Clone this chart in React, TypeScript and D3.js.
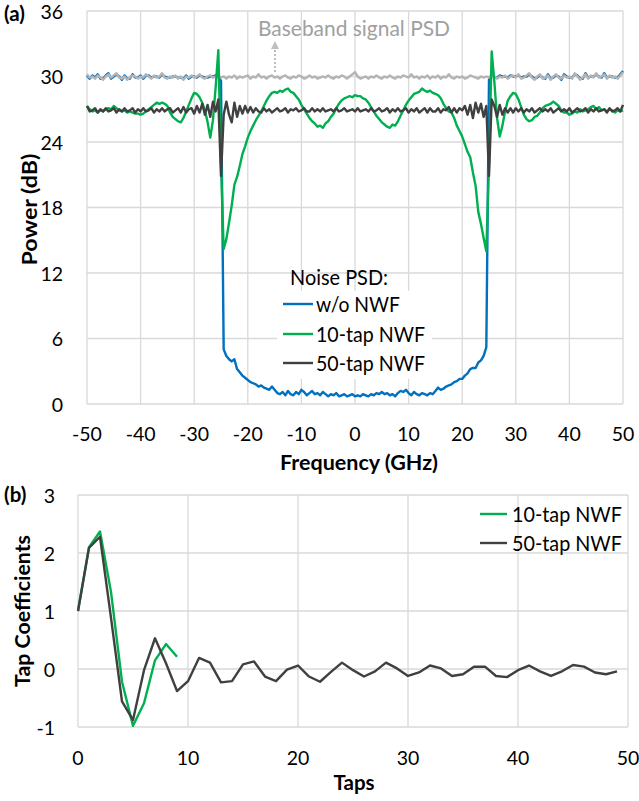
import React from 'react';
import * as d3 from 'd3';

const FONT = 'Lato, "Open Sans", sans-serif';

// Panel (a): PSD values sampled every 0.5 GHz from -50 to 50 GHz (201 points)
const freqTicks = [-50, -40, -30, -20, -10, 0, 10, 20, 30, 40, 50];
const powerTicks = [0, 6, 12, 18, 24, 30, 36];

const basebandPSD = [
  30.2, 29.9, 30.0, 29.8, 30.1, 29.9, 29.7, 30.0, 30.2, 29.9,
  30.1, 30.3, 29.9, 29.8, 30.0, 29.7, 29.9, 30.1, 30.0, 29.8,
  30.0, 29.9, 30.2, 30.0, 29.8, 30.1, 29.9, 30.0, 30.3, 29.9,
  29.8, 30.0, 29.9, 30.1, 29.8, 30.0, 29.7, 30.0, 29.9, 30.1,
  29.9, 30.0, 30.2, 29.9, 29.8, 30.0, 30.1, 29.9, 30.0, 30.1,
  29.9, 30.0, 29.8, 30.0, 29.9, 30.1, 29.8, 30.0, 29.9, 30.0,
  30.1, 29.8, 30.0, 29.9, 30.2, 29.9, 30.0, 29.8, 30.0, 30.1,
  29.9, 30.0, 29.8, 30.0, 30.1, 29.9, 29.8, 30.0, 29.9, 30.1,
  30.0, 29.8, 29.9, 30.1, 29.9, 30.0, 29.8, 29.9, 30.0, 29.9,
  30.1, 29.9, 29.8, 30.0, 29.9, 30.1, 30.0, 29.8, 30.0, 30.2,
  30.4, 30.0, 29.8, 29.9, 30.0, 29.8, 30.0, 29.9, 30.1, 29.9,
  29.8, 30.0, 29.9, 30.1, 29.9, 29.8, 30.0, 29.9, 30.1, 30.0,
  29.9, 30.2, 29.9, 30.0, 29.8, 30.0, 29.9, 30.1, 29.8, 30.0,
  29.9, 30.1, 29.8, 30.0, 29.9, 30.2, 29.9, 29.8, 30.0, 29.9,
  30.0, 29.8, 29.9, 30.1, 30.0, 29.9, 29.8, 30.0, 29.9, 30.0,
  29.9, 30.1, 30.0, 29.8, 30.0, 29.9, 30.1, 29.8, 30.0, 30.1,
  29.9, 30.2, 29.8, 29.9, 30.1, 30.3, 29.9, 29.7, 30.0, 30.2,
  29.8, 29.9, 30.1, 29.7, 30.0, 30.2, 29.9, 29.8, 30.1, 29.9,
  30.0, 29.8, 30.3, 30.0, 29.7, 29.9, 30.2, 29.8, 30.1, 29.9,
  30.3, 29.9, 30.0, 30.2, 29.8, 30.1, 29.9, 30.0, 29.8, 30.1,
  30.4,
];

const noiseNoNWF = [
  30.1, 29.8, 30.1, 29.9, 30.2, 29.8, 29.8, 30.1, 30.3, 29.8,
  30.0, 30.2, 30.0, 29.7, 30.1, 29.8, 29.8, 30.2, 29.9, 29.9,
  30.1, 29.8, 30.1, 30.1, 29.9, 30.0, 30.0, 29.9, 30.2, 30.0,
  29.9, 29.9, 30.0, 30.0, 29.9, 29.9, 29.8, 30.1, 29.8, 30.0,
  30.0, 29.9, 30.1, 30.0, 29.9, 29.9, 30.0, 30.0, 30.1, 30.0,
  29.6, 5.0, 4.4, 4.1, 3.9, 4.1, 3.2, 2.9, 2.6, 2.4,
  2.2, 2.0, 1.9, 1.8, 1.6, 1.7, 1.5, 1.4, 1.3, 1.6,
  1.3, 1.0, 0.9, 1.1, 0.8, 1.2, 0.9, 0.8, 1.1, 0.9,
  1.3, 1.1, 0.8, 1.0, 1.2, 0.9, 1.0, 0.8, 1.1, 0.9,
  0.7, 0.9, 0.8, 1.0, 0.7, 0.8, 0.9, 0.7, 0.8, 0.9,
  0.7, 0.8, 0.7, 0.9, 0.8, 0.7, 0.9, 0.8, 1.0, 0.9,
  1.1, 0.9, 1.0, 0.8, 0.9, 0.7, 1.0, 1.2, 1.1, 1.3,
  1.0, 0.8, 1.1, 0.9, 0.8, 1.0, 0.9, 0.8, 1.0, 0.9,
  1.2, 1.5, 1.3, 1.4, 1.6, 1.7, 1.8, 2.0, 2.1, 2.3,
  2.3, 2.6, 2.8, 3.2, 3.3, 3.3, 3.8, 4.0, 4.4, 5.2,
  29.7, 30.2, 29.9, 29.9, 30.1, 30.0, 30.0, 29.9, 30.1, 30.0,
  30.0, 30.1, 29.9, 30.0, 30.0, 30.2, 30.0, 29.8, 29.9, 30.1,
  29.9, 29.8, 30.2, 29.8, 29.9, 30.1, 30.0, 29.7, 30.2, 30.0,
  29.9, 29.9, 30.2, 30.1, 29.8, 29.8, 30.3, 29.9, 30.0, 30.0,
  30.2, 30.0, 29.9, 30.3, 29.9, 30.0, 30.0, 29.9, 29.9, 30.2,
  30.5,
];

const noise10Tap = [
  27.3, 27.0, 26.8, 26.9, 26.7, 26.9, 26.8, 27.0, 27.1, 27.0,
  27.3, 27.1, 26.9, 26.8, 26.9, 26.7, 26.8, 26.7, 26.6, 26.6,
  26.5, 26.6, 26.8, 27.0, 27.2, 27.4, 27.6, 27.5, 27.6, 27.5,
  27.3, 26.7, 26.3, 26.1, 25.9, 25.8, 26.2, 26.8, 27.4, 28.0,
  28.5, 28.4, 28.1, 27.6, 26.9, 25.8, 24.4, 26.0, 29.0, 32.4,
  22.0, 14.2, 15.1, 16.6, 18.2, 20.1, 20.8, 21.8, 22.9, 23.6,
  24.4, 25.0, 25.5, 26.0, 26.4, 26.8, 27.3, 27.8, 28.2, 28.5,
  28.6, 28.5, 28.7, 28.6, 28.8, 28.9, 28.6, 28.5, 28.2, 27.9,
  27.4, 27.0, 26.6, 26.2, 25.9, 25.7, 25.4, 25.5, 25.3, 25.7,
  25.9, 26.3, 26.6, 27.1, 27.5, 27.8, 28.0, 28.1, 28.2, 28.1,
  28.3, 28.2, 28.2, 28.0, 27.9, 27.6, 27.2, 26.8, 26.4, 26.1,
  25.8, 25.6, 25.4, 25.3, 25.6, 25.5, 25.9, 26.4, 26.9, 27.4,
  27.8, 28.1, 28.4, 28.5, 28.6, 28.9, 28.7, 28.6, 28.7, 28.5,
  28.4, 28.3, 28.0, 27.5, 27.1, 26.8, 26.7, 26.2, 25.5, 25.0,
  24.5, 23.8, 23.1, 22.6, 21.2, 20.0, 17.6, 16.5, 15.2, 14.0,
  22.0, 32.3, 29.5, 26.2, 24.5, 25.5, 26.8, 27.8, 28.2, 28.5,
  28.4, 27.9, 27.2, 26.5, 26.1, 25.9, 26.0, 26.3, 26.4, 26.7,
  27.1, 27.3, 27.4, 27.5, 27.7, 27.5, 27.3, 26.9, 26.7, 26.7,
  26.5, 26.6, 26.8, 26.7, 27.0, 26.8, 26.9, 27.0, 27.2, 27.3,
  27.0, 27.2, 26.9, 27.0, 26.8, 27.0, 26.9, 26.7, 26.9, 26.8,
  26.9,
];

const noise50Tap = [
  27.3, 26.8, 26.9, 27.1, 26.7, 27.0, 26.8, 27.1, 26.8, 26.9,
  27.1, 26.7, 27.0, 26.8, 27.1, 26.8, 26.9, 27.1, 26.7, 27.0,
  26.8, 27.1, 26.8, 26.9, 27.1, 26.7, 27.0, 26.8, 27.1, 26.8,
  27.0, 27.1, 26.7, 26.9, 27.1, 26.7, 27.2, 26.7, 27.0, 27.1,
  26.6, 27.3, 26.7, 27.5, 26.5, 27.4, 26.3, 27.7, 26.8, 27.9,
  20.9, 26.5, 27.7, 26.5, 25.8, 27.6, 26.3, 27.3, 26.6, 27.3,
  26.7, 27.2, 26.7, 27.1, 26.8, 26.7, 27.1, 26.8, 27.0, 26.7,
  26.9, 27.1, 26.8, 26.9, 27.1, 26.7, 27.0, 26.9, 27.1, 26.8,
  26.9, 27.1, 26.8, 26.8, 27.1, 26.8, 27.0, 26.8, 27.1, 26.8,
  26.9, 27.0, 26.8, 27.1, 26.8, 26.9, 27.1, 26.8, 26.9, 27.0,
  26.8, 27.1, 26.8, 26.9, 27.0, 26.8, 27.1, 26.8, 26.9, 27.1,
  26.8, 26.9, 27.1, 26.7, 27.0, 26.8, 27.1, 26.8, 26.9, 27.1,
  26.7, 27.0, 26.8, 27.1, 26.7, 26.9, 27.1, 26.7, 27.1, 26.8,
  26.8, 27.1, 26.7, 27.0, 26.9, 27.2, 26.7, 27.1, 26.7, 27.1,
  26.9, 27.3, 26.5, 27.4, 26.2, 27.6, 26.7, 27.5, 26.3, 27.3,
  20.9, 27.9, 27.3, 26.3, 27.4, 26.5, 27.1, 26.7, 27.1, 26.7,
  27.1, 26.8, 27.1, 26.7, 27.0, 26.8, 27.1, 26.7, 26.9, 27.1,
  26.8, 27.0, 26.8, 27.1, 26.7, 26.9, 27.1, 26.8, 27.0, 26.8,
  27.1, 26.7, 26.9, 27.1, 26.8, 26.9, 27.1, 26.7, 27.0, 26.8,
  27.1, 26.8, 26.9, 27.0, 26.7, 27.1, 26.8, 26.9, 27.1, 26.8,
  27.4,
];

// Panel (b): tap coefficients
const tapTicks = [0, 10, 20, 30, 40, 50];
const coefTicks = [-1, 0, 1, 2, 3];
const taps10 = [1.0, 2.1, 2.37, 1.33, -0.22, -0.98, -0.59, 0.15, 0.43, 0.21];
const taps50 = [
  1.0, 2.09, 2.28, 0.88, -0.56, -0.88, -0.02, 0.53, 0.1, -0.38,
  -0.21, 0.19, 0.11, -0.23, -0.21, 0.08, 0.13, -0.13, -0.21, -0.01,
  0.06, -0.13, -0.22, -0.05, 0.11, -0.02, -0.13, -0.04, 0.11, 0.01,
  -0.12, -0.06, 0.06, 0.01, -0.12, -0.09, 0.04, 0.04, -0.12, -0.14,
  -0.02, 0.06, -0.04, -0.12, -0.04, 0.07, 0.04, -0.06, -0.09, -0.04,
];

const BLUE = '#0070C0';
const GREEN = '#00B050';
const DARK = '#404040';
const GRAY = '#B4B4B4';
const GRID = '#D9D9D9';
const TXT = '#000000';

export default function App() {
  const freqs = d3.range(basebandPSD.length).map((i) => -50 + i * 0.5);
  const xA = d3.scaleLinear().domain([-50, 50]).range([87, 623]);
  const yA = d3.scaleLinear().domain([0, 36]).range([404, 11]);
  const lineA = d3
    .line<number>()
    .x((_, i) => xA(freqs[i]))
    .y((d) => yA(d));

  const xB = d3.scaleLinear().domain([0, 50]).range([78, 628]);
  const yB = d3.scaleLinear().domain([-1, 3]).range([727, 495]);
  const lineB = d3
    .line<number>()
    .x((_, i) => xB(i))
    .y((d) => yB(d));

  const fs = 19.5; // tick labels
  const ft = 20.5; // titles / legend

  return (
    <svg
      width={639}
      height={801}
      style={{ position: 'absolute', left: 0, top: 0, background: '#fff' }}
      fontFamily={FONT}
    >
      <defs>
        <marker id="arr" viewBox="0 0 10 10" refX="5" refY="5" markerWidth="4" markerHeight="4" orient="auto">
          <path d="M0,0 L10,5 L0,10 z" fill="#BFBFBF" />
        </marker>
      </defs>
      {/* ---------- Panel (a) ---------- */}
      <g>
        {freqTicks.map((t) => (
          <line key={'gx' + t} x1={xA(t)} x2={xA(t)} y1={yA(36)} y2={yA(0)} stroke={GRID} strokeWidth={1.3} />
        ))}
        {powerTicks.map((t) => (
          <line key={'gy' + t} x1={xA(-50)} x2={xA(50)} y1={yA(t)} y2={yA(t)} stroke={GRID} strokeWidth={1.3} />
        ))}
        {powerTicks.map((t) => (
          <text key={'ty' + t} x={63} y={yA(t)} textAnchor="end" dominantBaseline="central" fontSize={fs} fill={TXT}>
            {t}
          </text>
        ))}
        {freqTicks.map((t) => (
          <text key={'tx' + t} x={xA(t)} y={441} textAnchor="middle" fontSize={fs} fill={TXT}>
            {t}
          </text>
        ))}
        <text x={359} y={470} textAnchor="middle" fontSize={ft} fontWeight="bold" fill={TXT} textLength={158} lengthAdjust="spacingAndGlyphs">
          Frequency (GHz)
        </text>
        <text
          transform={`translate(29,${(yA(0) + yA(36)) / 2 + 2}) rotate(-90)`}
          textAnchor="middle"
          dominantBaseline="central"
          fontSize={ft}
          fontWeight="bold"
          fill={TXT}
          textLength={112}
          lengthAdjust="spacingAndGlyphs"
        >
          Power (dB)
        </text>
        <text x={4} y={21} fontSize={ft} fontWeight="bold" fill={TXT}>
          (a)
        </text>

        <path d={lineA(noiseNoNWF) || ''} fill="none" stroke={BLUE} strokeWidth={2.4} strokeLinejoin="round" />
        <path d={lineA(basebandPSD) || ''} fill="none" stroke={GRAY} strokeWidth={2.4} strokeLinejoin="round" />
        <path d={lineA(noise10Tap) || ''} fill="none" stroke={GREEN} strokeWidth={2.4} strokeLinejoin="round" />
        <path d={lineA(noise50Tap) || ''} fill="none" stroke={DARK} strokeWidth={2.4} strokeLinejoin="round" />

        {/* baseband annotation */}
        <text x={258} y={36} fontSize={ft} fill="#A0A0A0" textLength={192} lengthAdjust="spacingAndGlyphs">
          Baseband signal PSD
        </text>
        <line
          x1={275}
          x2={275}
          y1={72}
          y2={45}
          stroke="#BFBFBF"
          strokeWidth={2}
          strokeDasharray="2,2"
          markerEnd="url(#arr)"
        />

        {/* legend */}
        <text x={290} y={285} fontSize={ft} fill={TXT} textLength={98} lengthAdjust="spacingAndGlyphs">
          Noise PSD:
        </text>
        <rect x={277} y={291} width={155} height={88} fill="#fff" />
        {[
          { label: 'w/o NWF', color: BLUE, y: 304, w: 84 },
          { label: '10-tap NWF', color: GREEN, y: 334, w: 109 },
          { label: '50-tap NWF', color: DARK, y: 363, w: 109 },
        ].map((d) => (
          <g key={d.label}>
            <line x1={283} x2={313} y1={d.y} y2={d.y} stroke={d.color} strokeWidth={2.4} />
            <text x={316} y={d.y} dominantBaseline="central" fontSize={ft} fill={TXT} textLength={d.w} lengthAdjust="spacingAndGlyphs">
              {d.label}
            </text>
          </g>
        ))}
      </g>

      {/* ---------- Panel (b) ---------- */}
      <g>
        {tapTicks.map((t) => (
          <line key={'bgx' + t} x1={xB(t)} x2={xB(t)} y1={yB(3)} y2={yB(-1)} stroke={GRID} strokeWidth={1.3} />
        ))}
        {coefTicks.map((t) => (
          <line key={'bgy' + t} x1={xB(0)} x2={xB(50)} y1={yB(t)} y2={yB(t)} stroke={GRID} strokeWidth={1.3} />
        ))}
        {coefTicks.map((t) => (
          <text key={'bty' + t} x={55} y={yB(t)} textAnchor="end" dominantBaseline="central" fontSize={fs} fill={TXT}>
            {t}
          </text>
        ))}
        {tapTicks.map((t) => (
          <text key={'btx' + t} x={xB(t)} y={765} textAnchor="middle" fontSize={fs} fill={TXT}>
            {t}
          </text>
        ))}
        <text x={354} y={790} textAnchor="middle" fontSize={ft} fontWeight="bold" fill={TXT}>
          Taps
        </text>
        <text
          transform={`translate(22,${(yB(-1) + yB(3)) / 2}) rotate(-90)`}
          textAnchor="middle"
          dominantBaseline="central"
          fontSize={ft}
          fontWeight="bold"
          fill={TXT}
          textLength={152}
          lengthAdjust="spacingAndGlyphs"
        >
          Tap Coefficients
        </text>
        <text x={4} y={502} fontSize={ft} fontWeight="bold" fill={TXT}>
          (b)
        </text>

        <path d={lineB(taps10) || ''} fill="none" stroke={GREEN} strokeWidth={2.4} strokeLinejoin="round" />
        <path d={lineB(taps50) || ''} fill="none" stroke={DARK} strokeWidth={2.4} strokeLinejoin="round" />

        {[
          { label: '10-tap NWF', color: GREEN, y: 514 },
          { label: '50-tap NWF', color: DARK, y: 543 },
        ].map((d) => (
          <g key={d.label}>
            <line x1={480} x2={507} y1={d.y} y2={d.y} stroke={d.color} strokeWidth={2.4} />
            <text x={512} y={d.y} dominantBaseline="central" fontSize={ft} fill={TXT} textLength={110} lengthAdjust="spacingAndGlyphs">
              {d.label}
            </text>
          </g>
        ))}
      </g>
    </svg>
  );
}
